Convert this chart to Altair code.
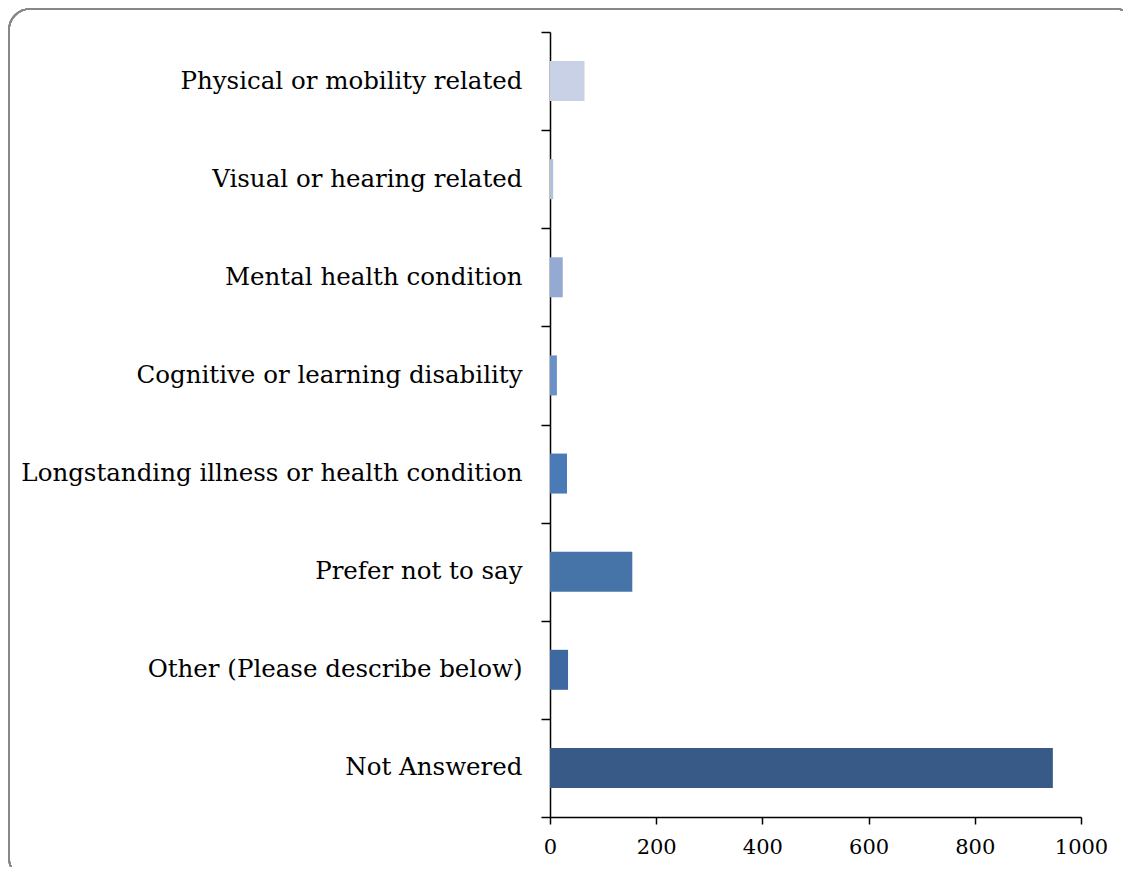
import altair as alt
import pandas as pd

categories = [
    "Physical or mobility related",
    "Visual or hearing related",
    "Mental health condition",
    "Cognitive or learning disability",
    "Longstanding illness or health condition",
    "Prefer not to say",
    "Other (Please describe below)",
    "Not Answered",
]
values = [65, 6, 24, 13, 32, 155, 34, 947]
colors = ["#c8d1e5", "#b3c0dc", "#95aad3", "#6b8fc7", "#4a7bb6", "#4674a8", "#3e69a0", "#375a86"]
x_ticks = [0, 200, 400, 600, 800, 1000]

df = pd.DataFrame({"category": categories, "value": values, "color": colors})

FONT = "DejaVu Serif"

bars = alt.Chart(df).mark_bar(size=40).encode(
    y=alt.Y(
        "category:N",
        sort=categories,
        scale=alt.Scale(paddingInner=0, paddingOuter=0),
        axis=alt.Axis(
            title=None,
            tickBand="extent",
            tickSize=9,
            tickColor="#000000",
            tickWidth=1.5,
            domainColor="#000000",
            domainWidth=1.5,
            labelPadding=19,
            labelFont=FONT,
            labelFontSize=24.5,
            labelColor="#000000",
            labelLimit=600,
        ),
    ),
    x=alt.X(
        "value:Q",
        scale=alt.Scale(domain=[0, 1000], nice=False),
        axis=alt.Axis(
            title=None,
            values=x_ticks,
            format="d",
            grid=False,
            tickSize=7,
            tickColor="#000000",
            tickWidth=1.5,
            domainColor="#000000",
            domainWidth=1.5,
            labelPadding=12,
            labelFont=FONT,
            labelFontSize=21,
            labelColor="#000000",
            labelFlush=False,
        ),
    ),
    color=alt.Color("color:N", scale=None),
)

frame = alt.Chart(df).mark_rect(
    fill=None, stroke="#888888", strokeWidth=1.5, cornerRadius=21
).encode(
    x=alt.value(-541),
    x2=alt.value(587),
    y=alt.value(-23),
    y2=alt.value(847),
)

chart = alt.layer(frame, bars).properties(
    width=531,
    height=785,
    padding={"left": 542, "top": 24, "right": 42, "bottom": 50},
    autosize=alt.AutoSizeParams(type="none"),
).configure_view(stroke=None)

chart.save("out.html", embed_options={"renderer": "svg", "actions": False})
